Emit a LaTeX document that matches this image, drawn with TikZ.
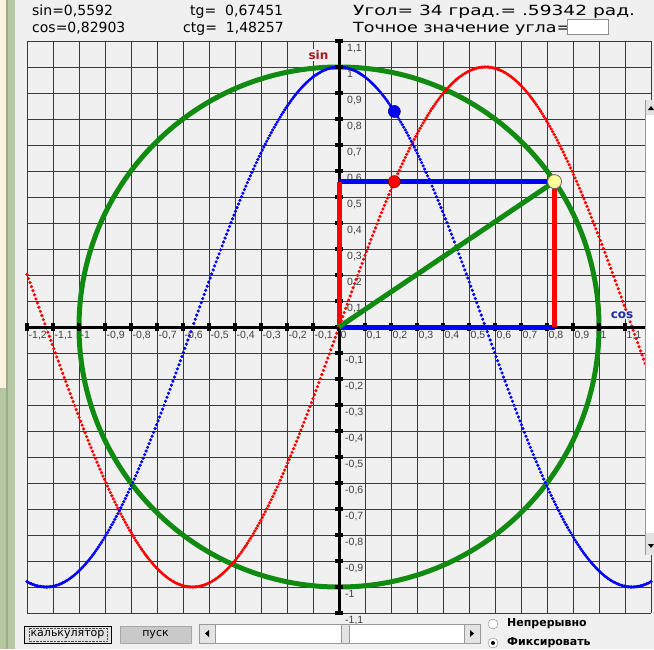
\documentclass[tikz,border=0pt]{standalone}
\usepackage{fontspec}
\setmainfont{DejaVu Sans}
\newfontfamily\labelfont{Liberation Sans}
\newfontfamily\widefont[FakeStretch=1.25]{DejaVu Sans}
\newfontfamily\widerfont[FakeStretch=1.33]{DejaVu Sans}

\definecolor{panelgray}{HTML}{F0F0F0}
\definecolor{sidebeige}{HTML}{FCF2DD}
\definecolor{sidegreen}{HTML}{B6C8A2}
\definecolor{gridgray}{HTML}{3A3A3A}
\definecolor{circlegreen}{HTML}{108A10}
\definecolor{sinred}{HTML}{FF0000}
\definecolor{cosblue}{HTML}{0000FF}
\definecolor{labelred}{HTML}{B0141E}
\definecolor{labelblue}{HTML}{1C2C9C}
\definecolor{dotyellow}{HTML}{FFFF99}
\definecolor{facegray}{HTML}{E3E3E3}
\definecolor{darkface}{HTML}{C9C9C9}

\tikzset{
  gridline/.style={gridgray, line width=1pt},
  axisline/.style={black, line width=3pt},
  curvedots/.style={only marks, mark=*, mark size=1.4pt},
  thickseg/.style={line width=5pt},
  ticklabel/.style={anchor=north west, inner sep=0pt, text=black!75,
    font=\labelfont\fontsize{10.5}{11}\selectfont},
  readout/.style={anchor=base west, inner sep=0pt, font=\fontsize{14}{16}\selectfont},
  axisname/.style={inner sep=1pt, fill=panelgray, font=\bfseries\fontsize{12}{14}\selectfont},
  winbutton/.style={fill=facegray, minimum height=17pt, inner sep=0pt,
    font=\fontsize{11}{12}\selectfont},
  radiotext/.style={anchor=west, inner sep=0pt, font=\bfseries\fontsize{11}{12}\selectfont}
}

\begin{document}
\begin{tikzpicture}[x=1pt,y=1pt]
\useasboundingbox (0,-649) rectangle (654,0);
% window background
\fill[panelgray] (0,-649) rectangle (654,0);
\fill[sidebeige] (0,0) rectangle (6,-388);
\fill[sidegreen] (0,-388) rectangle (6,-649);
\fill[sidegreen] (6,0) rectangle (15,-649);
\fill[sidegreen!85!black] (6,0) rectangle (8,-649);
% readouts
\node[readout] (sinval) at (32,-15) {sin=0,5592};
\node[readout] (cosval) at (32,-32) {cos=0,82903};
\node[readout] (tgval) at (190,-15) {tg=\ \ 0,67451};
\node[readout] (ctgval) at (183,-32) {ctg=\ \ 1,48257};
\node[readout, font=\widerfont\fontsize{14}{16}\selectfont] (angleval) at (353,-15) {Угол= 34 град.= .59342 рад.};
\node[readout, font=\widefont\fontsize{14}{16}\selectfont] (exactlabel) at (353,-32) {Точное значение угла=};
\node[draw=black!45, fill=white, minimum width=41pt, minimum height=15pt] (exactbox) at (587.5,-26.5) {};
% grid
\draw[gridline] (27,-41) -- (27,-613);
\draw[gridline] (53,-41) -- (53,-613);
\draw[gridline] (79,-41) -- (79,-613);
\draw[gridline] (105,-41) -- (105,-613);
\draw[gridline] (131,-41) -- (131,-613);
\draw[gridline] (157,-41) -- (157,-613);
\draw[gridline] (183,-41) -- (183,-613);
\draw[gridline] (209,-41) -- (209,-613);
\draw[gridline] (235,-41) -- (235,-613);
\draw[gridline] (261,-41) -- (261,-613);
\draw[gridline] (287,-41) -- (287,-613);
\draw[gridline] (313,-41) -- (313,-613);
\draw[gridline] (339,-41) -- (339,-613);
\draw[gridline] (365,-41) -- (365,-613);
\draw[gridline] (391,-41) -- (391,-613);
\draw[gridline] (417,-41) -- (417,-613);
\draw[gridline] (443,-41) -- (443,-613);
\draw[gridline] (469,-41) -- (469,-613);
\draw[gridline] (495,-41) -- (495,-613);
\draw[gridline] (521,-41) -- (521,-613);
\draw[gridline] (547,-41) -- (547,-613);
\draw[gridline] (573,-41) -- (573,-613);
\draw[gridline] (599,-41) -- (599,-613);
\draw[gridline] (625,-41) -- (625,-613);
\draw[gridline] (651,-41) -- (651,-613);
\draw[gridline] (27,-41) -- (651,-41);
\draw[gridline] (27,-67) -- (651,-67);
\draw[gridline] (27,-93) -- (651,-93);
\draw[gridline] (27,-119) -- (651,-119);
\draw[gridline] (27,-145) -- (651,-145);
\draw[gridline] (27,-171) -- (651,-171);
\draw[gridline] (27,-197) -- (651,-197);
\draw[gridline] (27,-223) -- (651,-223);
\draw[gridline] (27,-249) -- (651,-249);
\draw[gridline] (27,-275) -- (651,-275);
\draw[gridline] (27,-301) -- (651,-301);
\draw[gridline] (27,-327) -- (651,-327);
\draw[gridline] (27,-353) -- (651,-353);
\draw[gridline] (27,-379) -- (651,-379);
\draw[gridline] (27,-405) -- (651,-405);
\draw[gridline] (27,-431) -- (651,-431);
\draw[gridline] (27,-457) -- (651,-457);
\draw[gridline] (27,-483) -- (651,-483);
\draw[gridline] (27,-509) -- (651,-509);
\draw[gridline] (27,-535) -- (651,-535);
\draw[gridline] (27,-561) -- (651,-561);
\draw[gridline] (27,-587) -- (651,-587);
\draw[gridline] (27,-613) -- (651,-613);
% unit circle and the two curves
\coordinate (O) at (339,-327);
\draw[circlegreen, line width=5pt] (O) circle[radius=260];
\draw[sinred, curvedots] plot[domain=27:651, samples=420] (\x, {-327+260*sin(deg((\x-339)/93.26))});
\draw[cosblue, curvedots] plot[domain=27:651, samples=420] (\x, {-327+260*cos(deg((\x-339)/93.26))});
% axes
\coordinate (xleft) at (27,-327);
\coordinate (xright) at (651,-327);
\coordinate (ytop) at (339,-41);
\coordinate (ybottom) at (339,-613);
\draw[axisline] (xleft) -- (xright);
\draw[axisline] (ytop) -- (ybottom);
\foreach \x in {27,53,...,651} \fill (\x-2,-331) rectangle (\x+2,-323);
\foreach \y in {-41,-67,...,-613} \fill (335,\y+2) rectangle (343,\y-2);
\foreach \x/\t in {27/{-1,2},53/{-1,1},79/-1,105/{-0,9},131/{-0,8},157/{-0,7},183/{-0,6},209/{-0,5},235/{-0,4},261/{-0,3},287/{-0,2},313/{-0,1},339/0,365/{0,1},391/{0,2},417/{0,3},443/{0,4},469/{0,5},495/{0,6},521/{0,7},547/{0,8},573/{0,9},599/1,625/{1,1}}
  \node[ticklabel] (xl\x) at (\x+1.5,-331) {\t};
\foreach \y/\t in {-41/{1,1},-67/1,-93/{0,9},-119/{0,8},-145/{0,7},-171/{0,6},-197/{0,5},-223/{0,4},-249/{0,3},-275/{0,2},-301/{0,1}}
  \node[ticklabel] (yl\y) at (347,\y-3) {\t};
\foreach \y/\t in {-353/{-0,1},-379/{-0,2},-405/{-0,3},-431/{-0,4},-457/{-0,5},-483/{-0,6},-509/{-0,7},-535/{-0,8},-561/{-0,9},-587/-1,-613/{-1,1}}
  \node[ticklabel] (yl\y) at (345,\y-3) {\t};
% the angle of 34 degrees
\coordinate (P) at ({339+260*cos(34)},{-327+260*sin(34)});
\coordinate (Px) at (P |- O);
\coordinate (Py) at (P -| O);
\coordinate (S) at ({339+93.26*0.59342},{-327+260*sin(34)});
\coordinate (C) at ({339+93.26*0.59342},{-327+260*cos(34)});
\draw[cosblue, thickseg] (O) -- (Px);
\draw[cosblue, thickseg] (Py) -- (P);
\draw[sinred, thickseg] (O) -- (Py);
\draw[sinred, thickseg] (Px) -- (P);
\draw[circlegreen, thickseg] (O) -- (P);
\filldraw[fill=sinred, draw=red!50!black, line width=0.6pt] (S) circle[radius=6];
\filldraw[fill=cosblue, draw=blue!50!black, line width=0.6pt] (C) circle[radius=6];
\filldraw[fill=dotyellow, draw=black!60, line width=0.8pt] (P) circle[radius=7];
\node[axisname, text=labelred] (sinname) at (318.5,-55) {sin};
\node[axisname, text=labelblue] (cosname) at (622,-315) {cos};
% scroll bar at the right edge
\fill[white] (645,-100) rectangle (654,-555);
\draw[black!40] (645,-100) -- (645,-555);
\fill[facegray] (645.5,-100) rectangle (654,-115);
\fill[facegray] (645.5,-533) rectangle (654,-555);
\fill (648,-110) -- (654,-110) -- (651,-106) -- cycle;
\fill (648,-544) -- (654,-544) -- (651,-548) -- cycle;
% controls at the bottom
\node[winbutton, draw=black, line width=1pt, minimum width=87pt] (calcbtn) at (67.5,-634.5) {калькулятор};
\draw[densely dotted, black!70] (29,-628) rectangle (107,-641);
\node[winbutton, fill=darkface, draw=black!35, minimum width=71pt] (startbtn) at (155.5,-634.5) {пуск};
\draw[black!40, fill=white] (199,-624) rectangle (480,-643);
\node[winbutton, draw=black!40, minimum width=16pt, minimum height=19pt] (leftbtn) at (207,-633.5) {};
\node[winbutton, draw=black!40, minimum width=16pt, minimum height=19pt] (rightbtn) at (472,-633.5) {};
\node[winbutton, draw=black!40, minimum width=8pt, minimum height=19pt] (thumb) at (345,-633.5) {};
\fill (205,-633.5) -- (209,-630) -- (209,-637) -- cycle;
\fill (474,-633.5) -- (470,-630) -- (470,-637) -- cycle;
\filldraw[fill=white, draw=black!45] (493,-624) circle[radius=5];
\filldraw[fill=white, draw=black!45] (493,-643) circle[radius=5];
\fill (493,-643) circle[radius=2];
\node[radiotext] (contlabel) at (507,-624) {Непрерывно};
\node[radiotext] (fixlabel) at (507,-643) {Фиксировать};
\end{tikzpicture}
\end{document}
